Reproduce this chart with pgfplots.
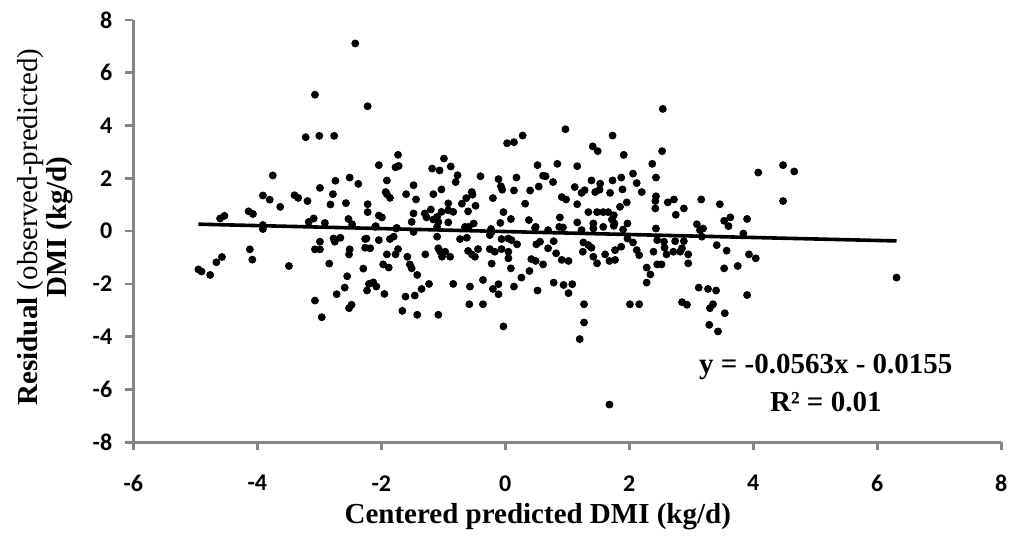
\documentclass[border=0pt]{standalone}
\usepackage{pgfplots}
\pgfplotsset{compat=1.18}
\usepackage{fontspec}
\setmainfont{Liberation Serif}
\newfontfamily\tickfont{Carlito}
\definecolor{axgray}{RGB}{134,134,134}
\begin{document}
\begin{tikzpicture}
\path[use as bounding box] (-66.65pt,-48.35pt) rectangle (439.35pt,221.15pt);
\begin{axis}[
  at={(0,0)}, anchor=south west,
  width=434pt, height=211.15pt, scale only axis,
  xmin=-6, xmax=8, ymin=-8, ymax=8,
  xtick={-6,-4,...,8}, ytick={-8,-6,...,8},
  axis lines*=left,
  axis line style={draw=axgray, line width=1.35pt},
  every tick/.style={draw=axgray, line width=1.35pt},
  major tick length=4pt,
  tick align=outside,
  minor tick num=0,
  /pgf/number format/assume math mode=true,
  ticklabel style={font=\tickfont\bfseries\fontsize{12}{14}\selectfont, text=black},
  xticklabel style={yshift=-9pt},
  yticklabel style={xshift=-3pt},
  clip=false,
  xlabel={\textbf{Centered predicted DMI (kg/d)}},
  ylabel={\textbf{Residual} (observed-predicted)\\\textbf{DMI (kg/d)}},
  every axis x label/.style={at={(axis description cs:0.466,-0.1769)}, anchor=center, font=\fontsize{14.5}{14.5}\selectfont},
  every axis y label/.style={at={(axis description cs:-0.1012,0.51)}, anchor=center, rotate=90, align=center, font=\fontsize{14.5}{14.5}\selectfont},
]
\addplot[only marks, mark=*, mark size=1.75pt, black] coordinates {
(-2.42,7.11) (-3.07,5.17) (-2.22,4.73) (-3.22,3.56) (-3.00,3.61) (-2.76,3.61)
(-3.75,2.11) (-2.51,2.03) (-2.74,1.91) (-2.37,1.79) (-2.99,1.64) (-2.78,1.40)
(-3.91,1.35) (-3.80,1.19) (-3.40,1.36) (-3.34,1.26) (-3.19,1.14) (-3.63,0.92)
(-2.82,1.01) (-2.57,1.06) (-2.22,1.02) (-2.22,0.72) (-4.14,0.75) (-4.07,0.65)
(-4.60,0.48) (-4.53,0.58) (-3.09,0.48) (-3.17,0.35) (-2.53,0.46) (-3.91,0.23)
(-2.91,0.31) (-2.47,0.26)
(-3.91,0.08) (-2.99,-0.40) (-2.77,-0.28) (-2.66,-0.25) (-2.75,-0.40) (-2.26,-0.30)
(-4.12,-0.69) (-3.07,-0.69) (-2.99,-0.69) (-2.51,-0.69) (-2.52,-0.88) (-2.26,-0.63)
(-2.18,-0.65) (-4.57,-0.98) (-4.66,-1.18) (-4.08,-1.08) (-3.49,-1.32) (-2.84,-1.23)
(-2.29,-1.42) (-4.95,-1.45) (-4.90,-1.53) (-4.76,-1.66) (-2.55,-1.71) (-2.20,-2.00)
(-2.59,-2.14) (-2.23,-2.25) (-2.72,-2.39) (-3.07,-2.63) (-2.48,-2.79) (-2.52,-2.92)
(-2.96,-3.26)
(0.03,3.33) (0.14,3.37) (0.28,3.62) (-1.73,2.89) (-2.04,2.50) (-1.77,2.42)
(-1.72,2.47) (-0.99,2.75) (-1.18,2.37) (-1.06,2.30) (-0.88,2.45) (-0.77,2.12)
(-0.80,1.86) (-0.40,2.08) (-0.11,1.97) (0.52,2.50) (0.18,2.03) (-1.91,1.92)
(-1.48,1.74) (-1.03,1.58) (-0.07,1.70) (-0.05,1.57) (0.54,1.69) (-1.93,1.48)
(-1.91,1.40) (-1.86,1.26) (-1.60,1.40) (-1.44,1.20) (-1.16,1.40) (-0.54,1.48)
(-0.53,1.38) (-0.63,1.25) (-0.70,1.04) (-0.48,0.96) (-0.20,1.25) (0.14,1.54)
(0.40,1.54) (0.32,1.04) (-2.04,0.59) (-1.99,0.52) (-1.48,0.67) (-1.30,0.67)
(-1.27,0.52) (-1.20,0.82) (-1.03,0.73) (-0.92,1.05) (-0.92,0.79) (-0.84,0.73)
(-1.16,0.44) (-1.10,0.54) (-1.08,0.35) (-0.92,0.33) (-0.60,0.75) (-1.51,0.35)
(-2.09,0.19) (-1.75,0.12) (-0.51,0.29) (-0.59,0.16) (-0.03,0.72) (0.09,0.46)
(-0.08,0.31) (0.38,0.42) (0.49,0.16) (-0.23,0.08) (0.61,2.10)
(-2.10,0.16) (-1.76,0.10) (-1.48,-0.03) (-1.10,0.16) (-0.65,0.16) (-0.22,-0.03)
(0.48,0.12) (-1.10,-0.21) (-2.24,-0.28) (-2.04,-0.34) (-1.86,-0.30) (-1.80,-0.21)
(-0.73,-0.30) (-0.62,-0.25) (-0.25,-0.15) (-0.06,-0.30) (0.05,-0.28) (0.10,-0.34)
(0.19,-0.50) (0.50,-0.50) (0.56,-0.40) (-1.73,-0.68) (-1.08,-0.65) (-1.05,-0.78)
(-1.02,-0.97) (-0.97,-0.78) (-0.89,-0.97) (-1.29,-0.88) (-1.91,-0.88) (-1.77,-0.88)
(-1.58,-0.97) (-0.60,-0.75) (-0.54,-0.88) (-0.44,-0.68) (-0.49,-0.97) (-0.25,-0.68)
(-0.17,-0.78) (-0.06,-0.68) (0.05,-0.78) (0.05,-1.03) (-0.22,-1.23) (0.09,-1.41)
(0.42,-1.06) (0.49,-1.13) (0.61,-1.26) (-1.97,-1.26) (-1.88,-1.38) (-1.54,-1.26)
(-1.51,-1.41) (-1.42,-1.66) (0.39,-1.51) (0.26,-1.76) (-2.13,-1.94) (-2.08,-2.10)
(-1.95,-2.38) (-1.23,-2.00) (-1.35,-2.19) (-1.46,-2.44) (-1.61,-2.48) (-0.84,-2.00)
(-0.57,-2.10) (-0.36,-1.85) (-0.20,-2.19) (-0.11,-2.01) (-0.11,-2.39) (0.14,-2.10)
(0.52,-2.25) (-0.58,-2.77) (-0.36,-2.77) (-1.66,-3.02) (-1.42,-3.17) (-1.08,-3.17)
(-0.03,-3.61)
(2.54,4.63) (0.97,3.86) (1.73,3.62) (1.41,3.21) (1.49,3.03) (1.91,2.89)
(2.53,3.03) (0.84,2.55) (1.16,2.46) (2.37,2.55) (0.65,2.08) (0.77,1.86)
(1.12,1.67) (1.23,1.45) (1.28,1.55) (1.39,1.92) (1.45,1.48) (1.53,1.80)
(1.52,1.57) (1.73,1.92) (1.87,2.03) (1.89,1.58) (1.69,1.45) (2.06,2.18)
(2.12,1.82) (2.20,1.48) (2.43,2.03) (0.91,1.29) (0.98,1.20) (1.16,1.02)
(1.34,0.72) (1.48,0.72) (1.58,0.72) (1.66,0.72) (1.75,0.60) (1.72,0.44)
(1.85,0.92) (1.96,1.09) (2.43,1.32) (2.42,1.14) (2.42,0.86) (2.62,1.09)
(2.72,1.20) (2.88,0.86) (2.75,0.62) (3.16,1.20) (3.46,1.02) (0.88,0.52)
(0.87,0.16) (0.93,0.14) (1.16,0.33) (1.42,0.29) (1.58,0.16) (1.76,0.29)
(1.97,0.29) (1.90,0.06) (2.43,0.10) (3.09,0.26) (3.19,0.10) (0.69,0.04)
(1.23,0.04) (1.42,0.10) (1.75,0.20)
(0.78,-0.38) (0.69,-0.65) (0.82,-0.84) (0.91,-1.09) (1.02,-1.13) (1.26,-0.43)
(1.34,-0.53) (1.39,-0.63) (1.25,-0.78) (1.42,-0.97) (1.48,-1.22) (1.61,-0.88)
(1.68,-1.13) (1.77,-1.09) (1.77,-0.72) (1.87,-0.59) (1.97,-0.28) (2.06,-0.43)
(2.12,-0.72) (2.16,-0.91) (2.28,-1.38) (2.34,-1.64) (2.28,-1.95) (2.39,-0.78)
(2.45,-1.26) (2.52,-1.26) (2.45,-0.34) (2.56,-0.40) (2.57,-0.63) (2.60,-0.88)
(2.74,-0.38) (2.71,-0.78) (2.82,-0.78) (2.88,-0.38) (2.85,-0.65) (2.95,-0.88)
(2.95,-1.22) (3.14,0.04) (3.17,-0.21) (3.41,-0.53) (0.78,-1.95) (0.94,-2.04)
(1.02,-2.35) (1.08,-2.01) (1.27,-2.77) (1.27,-3.46) (1.20,-4.09) (2.01,-2.77)
(2.16,-2.77) (2.85,-2.69) (2.93,-2.79) (3.12,-2.14) (3.27,-2.19) (3.40,-2.25)
(3.35,-2.77) (3.30,-2.92) (3.29,-3.55) (3.43,-3.80) (1.68,-6.57)
(4.08,2.22) (4.48,2.50) (4.66,2.26) (4.48,1.14) (3.90,0.46) (3.53,0.39)
(3.63,0.52) (3.60,0.19)
(3.84,-0.09) (3.57,-0.74) (3.93,-0.88) (4.04,-1.03) (3.53,-1.41) (3.75,-1.32)
(6.31,-1.76) (3.54,-3.11) (3.90,-2.42)
};
\addplot[black, line width=1.8pt] coordinates {(-4.95,0.263) (6.31,-0.371)};
\node[font=\bfseries\fontsize{14.5}{14.5}\selectfont, anchor=center] at (axis cs:5.17,-5.15) {y = -0.0563x - 0.0155};
\node[font=\bfseries\fontsize{14.5}{14.5}\selectfont, anchor=center] at (axis cs:5.17,-6.47) {R² = 0.01};
\end{axis}
\end{tikzpicture}
\end{document}
